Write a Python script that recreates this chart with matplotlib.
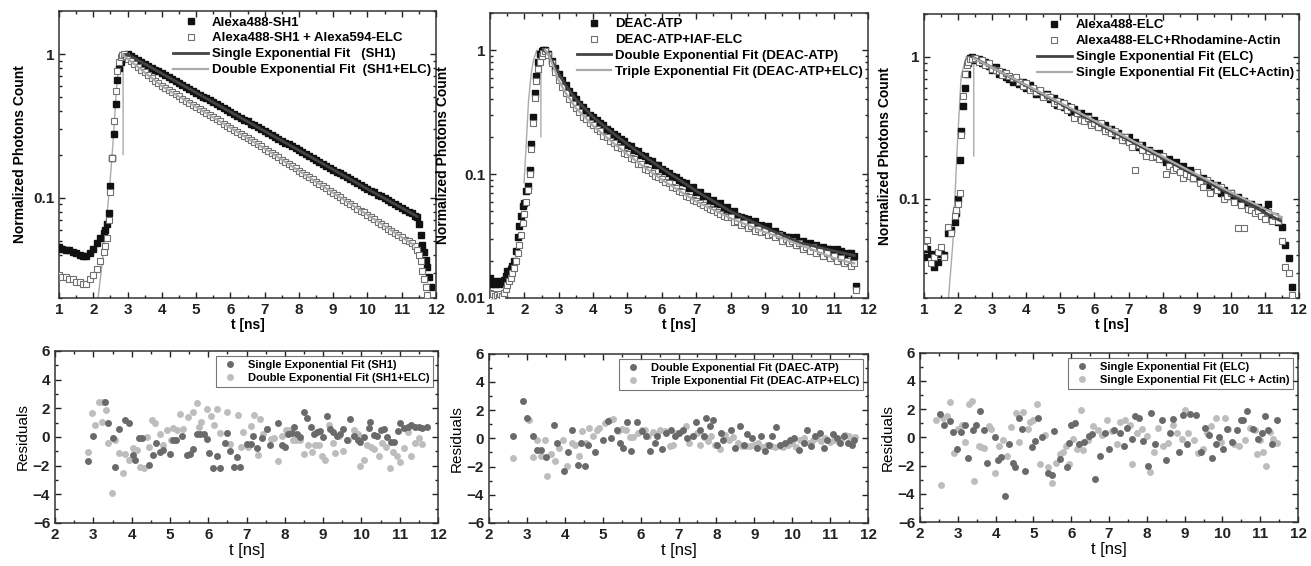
import matplotlib
matplotlib.use("Agg")
import matplotlib.pyplot as plt
from matplotlib.ticker import MultipleLocator, NullFormatter, LogLocator
from matplotlib.lines import Line2D

plt.rcParams['font.family'] = ['Liberation Sans', 'DejaVu Sans']

# ==========================================
# Panel 1: Alexa488-SH1 decay
# ==========================================
p1_t = [
    1.0, 1.1, 1.2, 1.3, 1.4, 1.5, 1.6, 1.7, 1.8, 1.9,
    2.0, 2.1, 2.2, 2.3, 2.35, 2.4, 2.45, 2.5, 2.55, 2.6,
    2.65, 2.7, 2.75, 2.8, 2.85, 2.9, 2.95,
    3.0, 3.1, 3.2, 3.3, 3.4, 3.5, 3.6, 3.7, 3.8, 3.9,
    4.0, 4.1, 4.2, 4.3, 4.4, 4.5, 4.6, 4.7, 4.8, 4.9,
    5.0, 5.1, 5.2, 5.3, 5.4, 5.5, 5.6, 5.7, 5.8, 5.9,
    6.0, 6.1, 6.2, 6.3, 6.4, 6.5, 6.6, 6.7, 6.8, 6.9,
    7.0, 7.1, 7.2, 7.3, 7.4, 7.5, 7.6, 7.7, 7.8, 7.9,
    8.0, 8.1, 8.2, 8.3, 8.4, 8.5, 8.6, 8.7, 8.8, 8.9,
    9.0, 9.1, 9.2, 9.3, 9.4, 9.5, 9.6, 9.7, 9.8, 9.9,
    10.0, 10.1, 10.2, 10.3, 10.4, 10.5, 10.6, 10.7, 10.8, 10.9,
    11.0, 11.1, 11.2, 11.3, 11.4,
    11.45, 11.5, 11.55, 11.6, 11.65, 11.7, 11.75, 11.8, 11.85,
]
p1_sh1 = [
    0.045, 0.044, 0.043, 0.043, 0.042, 0.041, 0.040, 0.039, 0.039, 0.041,
    0.044, 0.048, 0.052, 0.057, 0.060, 0.066, 0.078, 0.12, 0.19, 0.28,
    0.45, 0.66, 0.80, 0.88, 0.93, 0.97, 0.99,
    1.000, 0.970, 0.940, 0.912, 0.884, 0.857, 0.831, 0.806, 0.781, 0.758,
    0.734, 0.712, 0.691, 0.670, 0.649, 0.630, 0.610, 0.592, 0.574, 0.556,
    0.540, 0.523, 0.507, 0.492, 0.477, 0.462, 0.448, 0.435, 0.422, 0.409,
    0.396, 0.384, 0.373, 0.361, 0.350, 0.340, 0.329, 0.319, 0.310, 0.300,
    0.291, 0.282, 0.274, 0.265, 0.257, 0.250, 0.242, 0.235, 0.228, 0.221,
    0.214, 0.207, 0.201, 0.195, 0.189, 0.183, 0.178, 0.172, 0.167, 0.162,
    0.157, 0.152, 0.148, 0.143, 0.139, 0.135, 0.131, 0.127, 0.123, 0.119,
    0.115, 0.112, 0.109, 0.105, 0.102, 0.099, 0.096, 0.093, 0.090, 0.088,
    0.085, 0.082, 0.080, 0.078, 0.075,
    0.073, 0.066, 0.055, 0.047, 0.042, 0.037, 0.033, 0.028, 0.024,
]
p1_sh1_elc = [
    0.029, 0.028, 0.028, 0.027, 0.027, 0.026, 0.026, 0.025, 0.025, 0.027,
    0.029, 0.032, 0.036, 0.042, 0.046, 0.052, 0.070, 0.11, 0.19, 0.34,
    0.55, 0.77, 0.88, 0.95, 0.99, 1.0, 0.97,
    0.930, 0.890, 0.852, 0.815, 0.780, 0.746, 0.714, 0.684, 0.654, 0.626,
    0.600, 0.580, 0.561, 0.543, 0.525, 0.508, 0.491, 0.475, 0.459, 0.444,
    0.429, 0.415, 0.402, 0.388, 0.376, 0.363, 0.351, 0.340, 0.329, 0.318,
    0.307, 0.297, 0.288, 0.278, 0.269, 0.260, 0.252, 0.243, 0.235, 0.228,
    0.220, 0.212, 0.205, 0.198, 0.191, 0.184, 0.178, 0.172, 0.166, 0.160,
    0.154, 0.149, 0.144, 0.139, 0.134, 0.129, 0.125, 0.120, 0.116, 0.112,
    0.108, 0.104, 0.101, 0.097, 0.094, 0.091, 0.088, 0.084, 0.081, 0.079,
    0.076, 0.073, 0.071, 0.068, 0.066, 0.064, 0.061, 0.059, 0.057, 0.055,
    0.053, 0.051, 0.050, 0.048, 0.046,
    0.043, 0.040, 0.036, 0.031, 0.027, 0.024, 0.021, 0.019, 0.017,
]
p1_fit1_t = [2.9, 3.0, 4.0, 5.0, 6.0, 7.0, 8.0, 9.0, 10.0, 11.0, 11.45]
p1_fit1_y = [0.97, 1.0, 0.734, 0.540, 0.396, 0.291, 0.214, 0.157, 0.115, 0.085, 0.074]
p1_fit2_t = [2.85, 3.0, 3.25, 3.5, 3.75, 4.0, 5.0, 6.0, 7.0, 8.0, 9.0, 10.0, 11.0, 11.35]
p1_fit2_y = [0.99, 0.93, 0.835, 0.746, 0.67, 0.60, 0.429, 0.307, 0.220, 0.154, 0.108, 0.076, 0.053, 0.047]
p1_irf_t = [2.14, 2.26, 2.38, 2.48, 2.58, 2.68, 2.77, 2.83, 2.87, 2.87]
p1_irf_y = [0.02, 0.035, 0.069, 0.12, 0.25, 0.59, 0.95, 1.0, 0.98, 0.2]

# ==========================================
# Panel 2: DEAC-ATP decay
# ==========================================
p2_t = [
    1.0, 1.05, 1.1, 1.15, 1.2, 1.25, 1.3, 1.35, 1.4, 1.45,
    1.5, 1.55, 1.6, 1.65, 1.7, 1.75, 1.8, 1.85, 1.9, 1.95,
    2.0, 2.05, 2.1, 2.15, 2.2, 2.25, 2.3, 2.35, 2.4, 2.45,
    2.5, 2.55, 2.6,
    2.7, 2.8, 2.9,
    3.0, 3.1, 3.2, 3.3, 3.4, 3.5, 3.6, 3.7, 3.8, 3.9,
    4.0, 4.1, 4.2, 4.3, 4.4, 4.5, 4.6, 4.7, 4.8, 4.9,
    5.0, 5.1, 5.2, 5.3, 5.4, 5.5, 5.6, 5.7, 5.8, 5.9,
    6.0, 6.1, 6.2, 6.3, 6.4, 6.5, 6.6, 6.7, 6.8, 6.9,
    7.0, 7.1, 7.2, 7.3, 7.4, 7.5, 7.6, 7.7, 7.8, 7.9,
    8.0, 8.1, 8.2, 8.3, 8.4, 8.5, 8.6, 8.7, 8.8, 8.9,
    9.0, 9.1, 9.2, 9.3, 9.4, 9.5, 9.6, 9.7, 9.8, 9.9,
    10.0, 10.1, 10.2, 10.3, 10.4, 10.5, 10.6, 10.7, 10.8, 10.9,
    11.0, 11.1, 11.2, 11.3, 11.4, 11.5, 11.6, 11.65,
]
p2_deac = [
    0.0145, 0.013, 0.0135, 0.013, 0.0138, 0.013, 0.0135, 0.0132, 0.014, 0.015,
    0.0165, 0.016, 0.0172, 0.018, 0.020, 0.024, 0.031, 0.038, 0.046, 0.055,
    0.058, 0.073, 0.080, 0.108, 0.175, 0.29, 0.45, 0.62, 0.80, 0.93,
    0.99, 1.0, 1.0,
    0.93, 0.82, 0.72,
    0.64, 0.57, 0.52, 0.47, 0.43, 0.40, 0.37, 0.345, 0.325, 0.30,
    0.29, 0.275, 0.258, 0.247, 0.232, 0.224, 0.209, 0.203, 0.19, 0.185,
    0.172, 0.168, 0.157, 0.154, 0.143, 0.140, 0.130, 0.128, 0.119, 0.118,
    0.109, 0.106, 0.102, 0.097, 0.094, 0.090, 0.086, 0.085, 0.077, 0.078,
    0.071, 0.072, 0.066, 0.067, 0.061, 0.062, 0.057, 0.058, 0.052, 0.054,
    0.049, 0.050, 0.046, 0.045, 0.044, 0.043, 0.040, 0.042, 0.038, 0.039,
    0.036, 0.038, 0.034, 0.035, 0.033, 0.032, 0.031, 0.031, 0.029, 0.031,
    0.027, 0.029, 0.026, 0.028, 0.026, 0.027, 0.024, 0.026, 0.025, 0.025,
    0.023, 0.025, 0.024, 0.022, 0.023, 0.023, 0.022, 0.0125,
]
p2_deac_iaf = [
    0.011, 0.0102, 0.0108, 0.0104, 0.0106, 0.0101, 0.0108, 0.0103, 0.011, 0.0118,
    0.0128, 0.0137, 0.0145, 0.016, 0.0175, 0.020, 0.023, 0.027, 0.032, 0.040,
    0.048, 0.060, 0.075, 0.10, 0.16, 0.26, 0.41, 0.56, 0.70, 0.80,
    0.90, 0.95, 0.99,
    0.92, 0.79, 0.67,
    0.57, 0.50, 0.45, 0.40, 0.37, 0.34, 0.315, 0.29, 0.277, 0.256,
    0.247, 0.229, 0.221, 0.204, 0.198, 0.183, 0.178, 0.164, 0.161, 0.148,
    0.146, 0.134, 0.132, 0.121, 0.12, 0.11, 0.108, 0.102, 0.097, 0.094,
    0.091, 0.086, 0.084, 0.079, 0.077, 0.073, 0.071, 0.067, 0.065, 0.062,
    0.061, 0.058, 0.056, 0.054, 0.052, 0.051, 0.049, 0.048, 0.046, 0.045,
    0.045, 0.041, 0.042, 0.039, 0.040, 0.037, 0.038, 0.035, 0.036, 0.034,
    0.035, 0.032, 0.033, 0.031, 0.032, 0.029, 0.030, 0.028, 0.029, 0.027,
    0.028, 0.025, 0.026, 0.024, 0.026, 0.023, 0.024, 0.022, 0.023, 0.021,
    0.022, 0.020, 0.021, 0.019, 0.020, 0.018, 0.019, 0.0115,
]
p2_fit1_t = [2.55, 2.7, 2.8, 2.9, 3.0, 3.2, 3.5, 4.0, 4.5, 5.0, 5.5, 6.0, 7.0, 8.0, 9.0, 10.0, 11.0, 11.6]
p2_fit1_y = [1.0, 0.93, 0.82, 0.72, 0.64, 0.52, 0.40, 0.288, 0.222, 0.174, 0.138, 0.111, 0.073, 0.050, 0.037, 0.028, 0.024, 0.022]
p2_fit2_t = [2.6, 2.7, 2.8, 2.9, 3.0, 3.2, 3.5, 4.0, 4.5, 5.0, 5.5, 6.0, 7.0, 8.0, 9.0, 10.0, 11.0, 11.6]
p2_fit2_y = [1.0, 0.92, 0.79, 0.67, 0.57, 0.45, 0.34, 0.245, 0.186, 0.144, 0.113, 0.090, 0.060, 0.044, 0.034, 0.027, 0.021, 0.019]
p2_irf_t = [1.99, 2.05, 2.12, 2.2, 2.26, 2.36, 2.46, 2.48, 2.48]
p2_irf_y = [0.085, 0.17, 0.39, 0.65, 0.82, 1.0, 0.95, 0.9, 0.2]

# ==========================================
# Panel 3: Alexa488-ELC decay
# ==========================================
p3_t = [
    1.0, 1.1, 1.2, 1.3, 1.4, 1.5, 1.6, 1.7, 1.8, 1.9,
    1.95, 2.0, 2.05, 2.1, 2.15, 2.2, 2.25, 2.3, 2.35,
    2.4, 2.5, 2.6, 2.7, 2.8, 2.9,
    3.0, 3.1, 3.2, 3.3, 3.4, 3.5, 3.6, 3.7, 3.8, 3.9,
    4.0, 4.1, 4.2, 4.3, 4.4, 4.5, 4.6, 4.7, 4.8, 4.9,
    5.0, 5.1, 5.2, 5.3, 5.4, 5.5, 5.6, 5.7, 5.8, 5.9,
    6.0, 6.1, 6.2, 6.3, 6.4, 6.5, 6.6, 6.7, 6.8, 6.9,
    7.0, 7.1, 7.2, 7.3, 7.4, 7.5, 7.6, 7.7, 7.8, 7.9,
    8.0, 8.1, 8.2, 8.3, 8.4, 8.5, 8.6, 8.7, 8.8, 8.9,
    9.0, 9.1, 9.2, 9.3, 9.4, 9.5, 9.6, 9.7, 9.8, 9.9,
    10.0, 10.1, 10.2, 10.3, 10.4, 10.5, 10.6, 10.7, 10.8, 10.9,
    11.0, 11.1, 11.2, 11.3, 11.4,
    11.5, 11.6, 11.7, 11.8,
]
p3_elc = [
    0.039, 0.044, 0.041, 0.033, 0.036, 0.041, 0.040, 0.057, 0.060, 0.069,
    0.079, 0.10, 0.188, 0.30, 0.45, 0.60, 0.75, 0.90, 0.98,
    1.00, 0.95, 0.96, 0.90, 0.91, 0.86,
    0.80, 0.84, 0.76, 0.78, 0.72, 0.70, 0.66, 0.68, 0.64, 0.66,
    0.60, 0.63, 0.59, 0.55, 0.57, 0.53, 0.55, 0.50, 0.51, 0.46,
    0.48, 0.44, 0.45, 0.41, 0.43, 0.39, 0.40, 0.36, 0.38, 0.34,
    0.36, 0.33, 0.32, 0.33, 0.30, 0.31, 0.28, 0.29, 0.27, 0.26,
    0.27, 0.24, 0.25, 0.23, 0.24, 0.21, 0.22, 0.21, 0.20, 0.21,
    0.19, 0.18, 0.19, 0.17, 0.18, 0.16, 0.17, 0.15, 0.16, 0.14,
    0.15, 0.135, 0.14, 0.125, 0.13, 0.12, 0.125, 0.11, 0.115, 0.105,
    0.11, 0.10, 0.102, 0.094, 0.097, 0.089, 0.092, 0.085, 0.088, 0.080,
    0.083, 0.092, 0.076, 0.074, 0.069,
    0.063, 0.047, 0.038, 0.024,
]
p3_elc_actin = [
    0.046, 0.051, 0.035, 0.039, 0.042, 0.046, 0.039, 0.063, 0.057, 0.075,
    0.083, 0.092, 0.11, 0.28, 0.53, 0.75, 0.88, 0.92, 0.96,
    0.96, 0.98, 0.92, 0.94, 0.87, 0.90,
    0.82, 0.80, 0.79, 0.74, 0.77, 0.73, 0.71, 0.72, 0.66, 0.62,
    0.65, 0.58, 0.60, 0.56, 0.58, 0.52, 0.54, 0.52, 0.47, 0.49,
    0.45, 0.47, 0.42, 0.44, 0.37, 0.40, 0.36, 0.35, 0.37, 0.33,
    0.34, 0.32, 0.34, 0.30, 0.31, 0.29, 0.30, 0.28, 0.26, 0.27,
    0.25, 0.23, 0.16, 0.24, 0.22, 0.20, 0.215, 0.195, 0.20, 0.19,
    0.20, 0.15, 0.17, 0.16, 0.165, 0.155, 0.14, 0.15, 0.145, 0.14,
    0.155, 0.13, 0.12, 0.135, 0.11, 0.125, 0.115, 0.12, 0.10, 0.105,
    0.11, 0.095, 0.062, 0.09, 0.062, 0.085, 0.083, 0.079, 0.082, 0.075,
    0.072, 0.080, 0.070, 0.075, 0.070,
    0.050, 0.033, 0.030, 0.021,
]
p3_fit1_t = [2.4, 4.0, 6.0, 8.0, 10.0, 11.45]
p3_fit1_y = [1.0, 0.625, 0.347, 0.193, 0.107, 0.070]
p3_fit2_t = [2.45, 4.0, 6.0, 8.0, 10.0, 11.5]
p3_fit2_y = [0.98, 0.63, 0.355, 0.198, 0.111, 0.074]
p3_irf_t = [1.72, 1.85, 1.97, 2.09, 2.24, 2.40, 2.46, 2.46]
p3_irf_y = [0.02, 0.05, 0.22, 0.73, 1.0, 0.98, 0.95, 0.2]

# ==========================================
# Residuals
# ==========================================
r1_dark_t = [2.87, 2.98, 3.3, 3.39, 3.5, 3.57, 3.67, 3.83, 3.92, 4.03, 4.09, 4.18, 4.27, 4.44, 4.55,
             4.64, 4.74, 4.83, 5.0, 5.07, 5.16, 5.31, 5.44, 5.53, 5.61, 5.7, 5.78, 5.89, 5.96, 6.03,
             6.12, 6.23, 6.31, 6.44, 6.49, 6.57, 6.66, 6.75, 6.83, 7.01, 7.11, 7.18, 7.27, 7.4, 7.53,
             7.6, 7.82, 7.92, 8.01, 8.07, 8.18, 8.25, 8.31, 8.4, 8.49, 8.58, 8.68, 8.75, 8.84, 8.92,
             8.99, 9.1, 9.19, 9.27, 9.36, 9.45, 9.53, 9.62, 9.71, 9.8, 9.9, 9.97, 10.07, 10.19, 10.23,
             10.32, 10.41, 10.51, 10.6, 10.67, 10.77, 10.84, 10.95, 11.02, 11.12, 11.21, 11.3, 11.41,
             11.5, 11.58, 11.7]
r1_dark = [-1.68, 0.07, 2.47, 0.96, -0.1, -2.07, 0.58, 1.19, 1.0, -1.26, -1.6, -0.1, -0.1, -1.96, -1.26,
           -0.4, -1.03, -0.9, -1.19, -0.2, -0.2, 0.07, -1.26, -1.19, -0.84, 0.19, 0.19, 0.19, -0.12, -1.1,
           -2.19, -1.33, -2.19, -0.44, 0.26, -0.96, -2.07, -1.42, -2.07, -0.49, -0.49, 0.07, -0.8, -0.1, 0.58,
           -0.56, 1.0, -0.56, -0.72, 0.21, 0.26, 0.72, 0.21, 0.02, 1.77, 1.3, 0.72, 0.21, 0.37, 0.44,
           0.02, 1.47, 0.58, 0.37, 0.07, 0.21, 0.54, -0.2, 1.24, 0.07, -0.2, -0.33, 0.02, 0.61, 1.07,
           0.14, 0.07, 0.49, 0.54, 0.02, -0.33, -0.33, 0.42, 0.96, 0.61, 0.72, 0.84, 0.72,
           0.72, 0.65, 0.7]
r1_light_t = [2.85, 2.96, 3.05, 3.15, 3.22, 3.26, 3.33, 3.39, 3.48, 3.57, 3.67, 3.77, 3.83, 3.92, 4.03,
              4.13, 4.22, 4.33, 4.4, 4.44, 4.53, 4.61, 4.73, 4.81, 4.92, 5.02, 5.09, 5.18, 5.27, 5.34,
              5.48, 5.59, 5.7, 5.76, 5.82, 5.96, 6.07, 6.14, 6.23, 6.31, 6.49, 6.57, 6.77, 6.85, 6.92,
              7.03, 7.11, 7.2, 7.29, 7.36, 7.44, 7.53, 7.64, 7.72, 7.81, 7.92, 8.04, 8.12, 8.21, 8.29,
              8.4, 8.5, 8.61, 8.7, 8.79, 8.9, 8.96, 9.05, 9.16, 9.26, 9.32, 9.41, 9.53, 9.66, 9.8,
              9.9, 9.97, 10.06, 10.14, 10.25, 10.32, 10.45, 10.54, 10.65, 10.74, 10.83, 10.93, 11.02, 11.11,
              11.21, 11.3, 11.41, 11.5, 11.58]
r1_light = [-1.03, 1.7, 0.84, 2.47, 1.03, 2.47, 1.89, -0.44, -3.94, -0.21, -1.1, -2.54, -1.19, -1.61, -0.79,
            -0.91, -2.07, -2.19, -0.02, -0.68, 1.19, 1.0, 0.21, -0.56, 0.49, -0.21, 0.65, 0.49, 1.61, 0.54,
            1.38, 1.77, 2.4, 0.72, 1.07, 1.93, 1.47, 0.84, 1.93, 0.26, 1.77, -0.49, 1.54, -0.72, 0.37,
            -0.72, 0.77, 1.54, -1.26, 1.24, 0.21, 0.56, -0.16, -0.09, -1.65, 0.07, 0.49, 0.49, -0.21, -0.21,
            -0.21, -1.19, -0.56, -1.03, -0.56, -0.56, -1.33, -1.61, 0.84, -0.44, -1.1, 0.07, -0.96, -0.21, 0.49,
            0.21, -2.03, -1.61, -0.56, -0.72, -0.86, -1.33, -0.4, -0.72, -2.19, -1.03, -1.33, -1.72, -0.8,
            0.37, -1.33, -0.4, -0.09, -0.49]

r2_dark_t = [2.62, 2.9, 3.0, 3.16, 3.27, 3.36, 3.5, 3.72, 3.8, 3.97, 4.08, 4.18, 4.35, 4.44, 4.53,
             4.62, 4.79, 5.01, 5.15, 5.23, 5.37, 5.45, 5.54, 5.63, 5.74, 5.91, 6.03, 6.14, 6.26, 6.38,
             6.44, 6.56, 6.67, 6.79, 6.91, 7.02, 7.11, 7.23, 7.37, 7.46, 7.57, 7.66, 7.73, 7.82, 7.9,
             8.01, 8.11, 8.18, 8.38, 8.49, 8.63, 8.73, 8.8, 8.93, 9.07, 9.17, 9.29, 9.4, 9.46, 9.58,
             9.68, 9.81, 9.95, 10.05, 10.19, 10.3, 10.39, 10.49, 10.61, 10.74, 10.83, 10.93, 11.07, 11.18,
             11.27, 11.36, 11.46, 11.58, 11.62]
r2_dark = [0.19, 2.67, 1.44, 0.19, -0.85, -0.85, -1.32, 0.97, -0.33, -2.34, -0.99, 0.61, -1.89, -0.33, -1.98,
           -0.45, -0.99, -0.09, 1.2, 0.02, 0.61, -0.33, -0.69, 1.13, -0.92, 1.13, 0.5, 0.14, -0.92, -0.33,
           0.14, -0.76, 0.38, 0.61, 0.14, 0.38, 0.61, 0.02, 0.19, 1.13, 0.61, 0.14, 1.44, 0.85, 1.32,
           -0.45, 0.38, -0.09, 0.61, -0.69, 0.85, -0.45, 0.33, 0.02, -0.69, 0.19, -0.92, -0.45, 0.19, 0.8,
           -0.45, -0.33, -0.09, 0.02, -0.85, -0.33, 0.57, -0.57, 0.19, 0.38, -0.69, -0.09, 0.33, 0.02,
           -0.33, 0.19, -0.33, -0.45, -0.09]
r2_light_t = [2.62, 3.05, 3.16, 3.27, 3.38, 3.47, 3.53, 3.63, 3.74, 3.85, 3.96, 4.06, 4.18, 4.26, 4.38,
              4.46, 4.57, 4.64, 4.75, 4.84, 4.91, 5.05, 5.19, 5.28, 5.41, 5.5, 5.61, 5.72, 5.81, 5.94,
              6.03, 6.11, 6.2, 6.33, 6.42, 6.52, 6.64, 6.78, 6.86, 6.97, 7.08, 7.2, 7.29, 7.39, 7.48,
              7.57, 7.67, 7.78, 7.87, 7.96, 8.09, 8.22, 8.34, 8.45, 8.56, 8.67, 8.78, 8.89, 9.0, 9.11,
              9.23, 9.33, 9.44, 9.55, 9.67, 9.77, 9.88, 9.99, 10.1, 10.21, 10.32, 10.43, 10.55, 10.66,
              10.76, 10.87, 10.99, 11.09, 11.2, 11.31, 11.4, 11.51, 11.62, 11.66]
r2_light = [-1.39, 1.27, -1.32, -0.09, -1.23, -0.14, -2.69, -1.09, -1.63, -0.69, -0.09, -1.98, -0.33, -0.45, -1.23,
            0.5, -0.33, 0.73, 0.19, 0.61, 0.73, 1.09, 1.32, 1.37, 0.5, 0.66, 0.61, 0.09, 0.09, 0.38,
            0.61, 0.61, 0.19, 0.42, 0.33, 0.61, 0.5, -0.57, -0.45, 0.38, 0.5, 0.85, -0.33, 0.19, 0.38,
            -0.45, 0.09, -0.21, 0.19, -0.45, -0.76, 0.26, -0.09, 0.09, -0.33, -0.52, -0.57, -0.52, -0.45, -0.33,
            -0.61, -0.45, -0.57, -0.61, -0.52, -0.61, -0.45, -0.33, -0.61, -0.09, 0.02, -0.33, -0.09, 0.02,
            -0.21, 0.02, -0.28, -0.09, -0.21, 0.02, 0.26, 0.14, -0.05, 0.09]

r3_dark_t = [2.53, 2.64, 2.8, 2.88, 2.98, 3.08, 3.2, 3.27, 3.4, 3.48, 3.58, 3.68, 3.78, 3.98, 4.05,
             4.15, 4.24, 4.36, 4.45, 4.52, 4.62, 4.7, 4.78, 4.95, 5.05, 5.12, 5.22, 5.38, 5.48, 5.55,
             5.7, 5.88, 5.95, 6.0, 6.1, 6.2, 6.35, 6.48, 6.55, 6.62, 6.75, 6.88, 7.0, 7.12, 7.3,
             7.4, 7.48, 7.6, 7.7, 7.8, 7.9, 8.02, 8.12, 8.22, 8.4, 8.5, 8.6, 8.7, 8.85, 8.95,
             9.05, 9.15, 9.3, 9.42, 9.55, 9.65, 9.72, 9.82, 9.9, 10.02, 10.12, 10.25, 10.38, 10.48, 10.55,
             10.65, 10.8, 10.95, 11.05, 11.12, 11.2, 11.3, 11.45]
r3_dark = [1.65, 0.9, 1.15, 0.4, -0.8, 0.35, 0.9, -1.45, 0.55, 0.9, 1.9, 0.5, -1.8, 0.0, -1.6,
           -1.4, -4.15, -0.45, -1.85, -2.1, 1.35, 0.6, -2.35, -0.7, -0.25, 1.35, 0.0, -2.55, -2.7, 0.45,
           -1.5, -2.1, -0.4, 0.9, 1.0, -0.5, -0.3, 0.1, 0.25, -2.95, -1.3, 0.3, -0.85, 0.5, 0.3,
           -0.6, 0.7, -0.1, 1.5, 1.4, -0.25, -2.0, 1.7, -0.5, 1.2, -1.6, 0.3, 1.3, -1.0, 1.6,
           -0.5, 1.65, 1.6, -1.0, 0.7, 0.2, -1.45, -0.5, 0.0, -0.8, 0.6, -0.3, 0.5, 1.25, 1.2,
           1.85, 0.6, -0.1, 0.3, 1.5, 0.5, -0.5, 1.2]
r3_light_t = [2.41, 2.56, 2.62, 2.72, 2.8, 2.9, 3.0, 3.1, 3.2, 3.3, 3.38, 3.42, 3.55, 3.62, 3.7,
              3.82, 3.88, 3.98, 4.08, 4.2, 4.3, 4.4, 4.55, 4.62, 4.72, 4.85, 4.92, 5.0, 5.1, 5.18,
              5.3, 5.38, 5.48, 5.6, 5.7, 5.78, 5.85, 5.95, 6.05, 6.15, 6.25, 6.32, 6.45, 6.58, 6.72,
              6.82, 6.95, 7.08, 7.2, 7.3, 7.42, 7.55, 7.62, 7.75, 7.88, 8.0, 8.08, 8.18, 8.3, 8.42,
              8.55, 8.68, 8.8, 8.92, 9.02, 9.1, 9.25, 9.35, 9.48, 9.6, 9.7, 9.82, 9.95, 10.08, 10.15,
              10.3, 10.45, 10.6, 10.72, 10.85, 10.92, 11.0, 11.08, 11.15, 11.25, 11.35, 11.45]
r3_light = [1.2, -3.35, 1.4, 1.55, 2.5, -1.1, 0.6, 0.9, -0.3, 2.35, 2.55, -3.1, -0.6, -0.65, -0.75,
            0.8, 0.6, -2.5, -0.6, -0.2, -1.3, 0.75, 1.7, -0.3, 1.8, 0.6, 1.1, 1.2, 2.4, -1.9,
            0.2, -2.1, -3.2, -1.8, -1.2, -1.0, -0.6, -1.9, -0.1, -0.8, 1.95, -0.9, -0.2, 0.8, 0.5,
            0.2, 1.2, 0.45, -0.5, 1.1, 1.2, 0.9, -1.9, 0.3, 0.6, 0.1, -2.45, -1.0, 0.7, -0.6,
            -0.4, 0.9, 0.3, -0.1, 1.95, 0.3, -0.2, -1.1, -0.8, 0.3, 0.8, 1.35, -0.3, 1.4, 0.6,
            -0.5, -0.6, -0.2, 0.7, 0.5, -1.2, -0.2, -1.0, -2.0, 0.4, -0.1, -0.4]

for a, b in [(p1_t, p1_sh1), (p1_t, p1_sh1_elc), (p2_t, p2_deac), (p2_t, p2_deac_iaf),
             (p3_t, p3_elc), (p3_t, p3_elc_actin), (r1_dark_t, r1_dark), (r1_light_t, r1_light),
             (r2_dark_t, r2_dark), (r2_light_t, r2_light), (r3_dark_t, r3_dark), (r3_light_t, r3_light)]:
    assert len(a) == len(b), (len(a), len(b))

DARK = '#444444'
LIGHT = '#aaaaaa'
SQ_EDGE = '#707070'
R_DARK = '#6a6a6a'
R_LIGHT = '#bdbdbd'
MS = 5.0


def style_axes(ax):
    for s in ax.spines.values():
        s.set_color('#333333')
        s.set_linewidth(1.1)
    ax.tick_params(which='both', direction='in', top=True, right=True,
                   colors='#222222', labelsize=11, width=1)
    ax.tick_params(which='major', length=4)
    ax.tick_params(which='minor', length=2)
    for lab in ax.get_xticklabels() + ax.get_yticklabels():
        lab.set_fontweight('bold')


def decay_panel(ax, t, y_full, y_open, fit1, fit2, irf, labels, ylo, yticks):
    ax.plot(irf[0], irf[1], color=LIGHT, lw=1.0, zorder=2)
    ax.plot(t, y_full, 's', ms=MS, color='#111111', mec='#111111', zorder=3)
    ax.plot(t, y_open, 's', ms=MS, mfc='white', mec=SQ_EDGE, mew=0.8, zorder=3)
    ax.plot(fit1[0], fit1[1], '-', color=DARK, lw=2.0, zorder=4)
    ax.plot(fit2[0], fit2[1], '-', color=LIGHT, lw=1.6, zorder=4)
    ax.set_yscale('log')
    ax.set_xlim(1, 12)
    ax.set_ylim(ylo, 2)
    ax.set_xticks(range(1, 13))
    ax.xaxis.set_minor_locator(MultipleLocator(0.5))
    ax.set_yticks(yticks)
    ax.set_yticklabels([('%g' % v) for v in yticks])
    ax.yaxis.set_minor_locator(LogLocator(base=10, subs=range(2, 10)))
    ax.yaxis.set_minor_formatter(NullFormatter())
    ax.set_xlabel('t [ns]', fontsize=10, fontweight='bold', labelpad=1)
    ax.set_ylabel('Normalized Photons Count', fontsize=10, fontweight='bold', labelpad=4)
    handles = [
        Line2D([], [], ls='none', marker='s', ms=MS, color='#111111'),
        Line2D([], [], ls='none', marker='s', ms=MS, mfc='white', mec=SQ_EDGE, mew=0.8),
        Line2D([], [], color=DARK, lw=2.0),
        Line2D([], [], color=LIGHT, lw=1.6),
    ]
    ax.legend(handles, labels, loc='upper right', frameon=False,
              prop={'weight': 'bold', 'size': 9.5}, handlelength=2.6,
              handletextpad=0.3, labelspacing=0.28, borderaxespad=0.15,
              borderpad=0.25)
    style_axes(ax)


def resid_panel(ax, dark, light, labels):
    ax.plot(dark[0], dark[1], 'o', ms=MS, color=R_DARK, mec='none', zorder=3)
    ax.plot(light[0], light[1], 'o', ms=MS, color=R_LIGHT, mec='none', zorder=2)
    ax.set_xlim(2, 12)
    ax.set_ylim(-6, 6)
    ax.set_xticks(range(2, 13))
    ax.set_yticks([-6, -4, -2, 0, 2, 4, 6])
    ax.xaxis.set_minor_locator(MultipleLocator(0.5))
    ax.yaxis.set_minor_locator(MultipleLocator(1))
    ax.set_xlabel('t [ns]', fontsize=12, labelpad=1)
    ax.set_ylabel('Residuals', fontsize=11, labelpad=2)
    handles = [
        Line2D([], [], ls='none', marker='o', ms=MS, color=R_DARK, mec='none'),
        Line2D([], [], ls='none', marker='o', ms=MS, color=R_LIGHT, mec='none'),
    ]
    leg = ax.legend(handles, labels, loc='upper right', fancybox=False,
                    prop={'weight': 'bold', 'size': 8}, handlelength=1.8,
                    handletextpad=0.7, labelspacing=0.3, borderaxespad=0.45,
                    borderpad=0.35)
    leg.get_frame().set_edgecolor('#555555')
    leg.get_frame().set_linewidth(0.8)
    style_axes(ax)


fig = plt.figure(figsize=(13.11, 5.66), dpi=100)

ax1 = fig.add_axes([0.045, 0.4735, 0.2876, 0.507])
ax2 = fig.add_axes([0.3738, 0.4735, 0.2883, 0.504])
ax3 = fig.add_axes([0.7048, 0.4735, 0.2860, 0.502])
ax4 = fig.add_axes([0.042, 0.076, 0.2921, 0.304])
ax5 = fig.add_axes([0.373, 0.076, 0.2891, 0.299])
ax6 = fig.add_axes([0.7018, 0.0777, 0.2883, 0.299])

decay_panel(ax1, p1_t, p1_sh1, p1_sh1_elc, (p1_fit1_t, p1_fit1_y), (p1_fit2_t, p1_fit2_y),
            (p1_irf_t, p1_irf_y),
            ['Alexa488-SH1', 'Alexa488-SH1 + Alexa594-ELC',
             'Single Exponential Fit   (SH1)', 'Double Exponential Fit  (SH1+ELC)'],
            0.02, [0.1, 1])
decay_panel(ax2, p2_t, p2_deac, p2_deac_iaf, (p2_fit1_t, p2_fit1_y), (p2_fit2_t, p2_fit2_y),
            (p2_irf_t, p2_irf_y),
            ['DEAC-ATP', 'DEAC-ATP+IAF-ELC',
             'Double Exponential Fit (DEAC-ATP)', 'Triple Exponential Fit (DEAC-ATP+ELC)'],
            0.01, [0.01, 0.1, 1])
decay_panel(ax3, p3_t, p3_elc, p3_elc_actin, (p3_fit1_t, p3_fit1_y), (p3_fit2_t, p3_fit2_y),
            (p3_irf_t, p3_irf_y),
            ['Alexa488-ELC', 'Alexa488-ELC+Rhodamine-Actin',
             'Single Exponential Fit (ELC)', 'Single Exponential Fit (ELC+Actin)'],
            0.02, [0.1, 1])

resid_panel(ax4, (r1_dark_t, r1_dark), (r1_light_t, r1_light),
            ['Single Exponential Fit (SH1)', 'Double Exponential Fit (SH1+ELC)'])
resid_panel(ax5, (r2_dark_t, r2_dark), (r2_light_t, r2_light),
            ['Double Exponential Fit (DAEC-ATP)', 'Triple Exponential Fit (DEAC-ATP+ELC)'])
resid_panel(ax6, (r3_dark_t, r3_dark), (r3_light_t, r3_light),
            ['Single Exponential Fit (ELC)', 'Single Exponential Fit (ELC + Actin)'])

fig.savefig('out.png', dpi=100)
